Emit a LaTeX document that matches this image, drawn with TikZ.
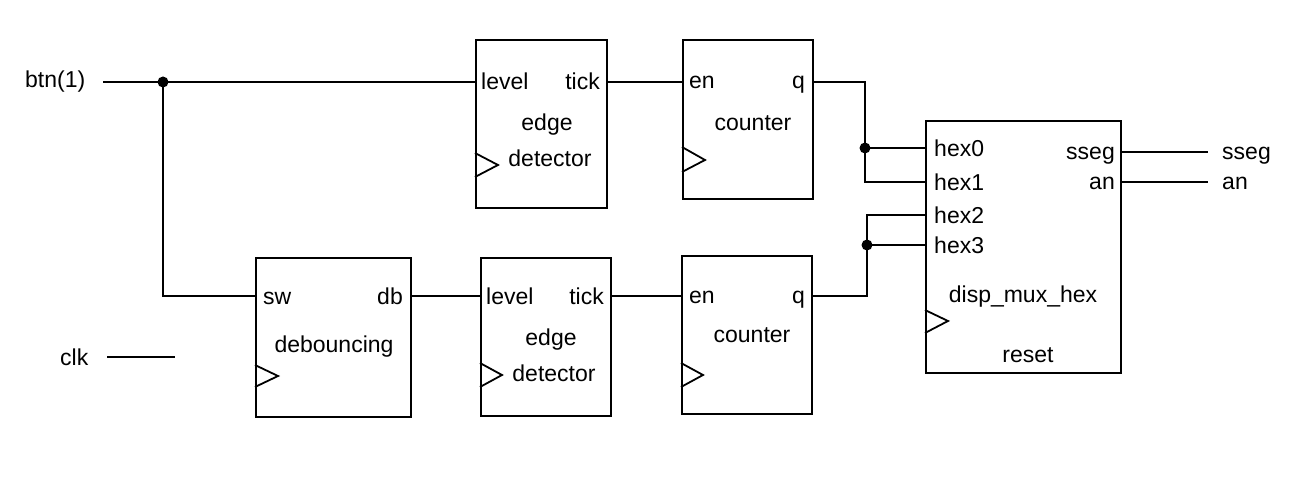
\documentclass[tikz,border=0pt]{standalone}
\usepackage{fontspec}
\setmainfont{Liberation Sans}
\begin{document}
\begin{tikzpicture}[x=1pt,y=-1pt,font=\fontsize{23}{27}\selectfont,
  blk/.style={draw,line width=2.3pt,inner sep=0pt,anchor=north west},
  wire/.style={line width=2.1pt},
  clock/.style={line width=1.8pt},
  lbl/.style={inner sep=0pt},
  dot/.style={circle,fill,inner sep=0pt,minimum size=11pt}]
\useasboundingbox (0,0) rectangle (1308,478);
% blocks
\node[blk,minimum width=155pt,minimum height=159pt] (db) at (255,257) {};
\node[blk,minimum width=131pt,minimum height=168pt] (ed1) at (475,39) {};
\node[blk,minimum width=130pt,minimum height=158pt] (ed2) at (480,257) {};
\node[blk,minimum width=130pt,minimum height=159pt] (c1) at (682,39) {};
\node[blk,minimum width=130pt,minimum height=158pt] (c2) at (681,255) {};
\node[blk,minimum width=195pt,minimum height=252pt] (mux) at (925,120) {};
% clock triangles
\draw[clock] (255,365) -- (278,376) -- (255,387);
\draw[clock] (475,153) -- (498,165) -- (475,177);
\draw[clock] (682,147) -- (705,160) -- (682,172);
\draw[clock] (480,363) -- (502,375) -- (480,387);
\draw[clock] (681,363) -- (703,375) -- (681,387);
\draw[clock] (925,310) -- (948,321) -- (925,333);
% block texts
\node[lbl,anchor=base west] (dbsw) at (263,304) {sw};
\node[lbl,anchor=base east] (dbdb) at (403,304) {db};
\node[lbl] (dbname) at (334,347) {debouncing};
\node[lbl,anchor=base west] (ed1l) at (481,90) {level};
\node[lbl,anchor=base east] (ed1t) at (600,90) {tick};
\node[lbl] (ed1a) at (547,125) {edge};
\node[lbl] (ed1b) at (550,158) {detector};
\node[lbl,anchor=base west] (ed2l) at (486,304) {level};
\node[lbl,anchor=base east] (ed2t) at (604,304) {tick};
\node[lbl] (ed2a) at (551,340) {edge};
\node[lbl] (ed2b) at (554,373) {detector};
\node[lbl,anchor=base west] (c1en) at (689,89) {en};
\node[lbl,anchor=base east] (c1q) at (805,89) {q};
\node[lbl] (c1n) at (753,123) {counter};
\node[lbl,anchor=base west] (c2en) at (689,303) {en};
\node[lbl,anchor=base east] (c2q) at (805,303) {q};
\node[lbl] (c2n) at (752,335) {counter};
\node[lbl,anchor=west] (h0) at (934,148) {hex0};
\node[lbl,anchor=west] (h1) at (934,182) {hex1};
\node[lbl,anchor=west] (h2) at (934,215) {hex2};
\node[lbl,anchor=west] (h3) at (934,245) {hex3};
\node[lbl,anchor=base east] (ms) at (1115,160) {sseg};
\node[lbl,anchor=base east] (ma) at (1115,190) {an};
\node[lbl] (mn) at (1023,297) {disp\_mux\_hex};
\node[lbl] (mr) at (1028,355) {reset};
% external labels
\node[lbl,anchor=west] (btn) at (25,82) {btn(1)};
\node[lbl,anchor=base west] (clk) at (60,365) {clk};
\node[lbl,anchor=base west] (osseg) at (1222,160) {sseg};
\node[lbl,anchor=base west] (oan) at (1222,190) {an};
% port coordinates
\coordinate (btnw) at (103,82);
\coordinate (clkw1) at (107,357);
\coordinate (clkw2) at (175,357);
\coordinate (dbin) at (db.west |- 0,296);
\coordinate (dbout) at (db.east |- 0,296);
\coordinate (ed1in) at (ed1.west |- 0,82);
\coordinate (ed1out) at (ed1.east |- 0,82);
\coordinate (ed2in) at (ed2.west |- 0,296);
\coordinate (ed2out) at (ed2.east |- 0,296);
\coordinate (c1in) at (c1.west |- 0,82);
\coordinate (c1out) at (c1.east |- 0,82);
\coordinate (c2in) at (c2.west |- 0,296);
\coordinate (c2out) at (c2.east |- 0,296);
\coordinate (mh0) at (mux.west |- 0,148);
\coordinate (mh1) at (mux.west |- 0,182);
\coordinate (mh2) at (mux.west |- 0,215);
\coordinate (mh3) at (mux.west |- 0,245);
\coordinate (mso) at (mux.east |- 0,152);
\coordinate (mao) at (mux.east |- 0,182);
\coordinate (sw1) at (1208,152);
\coordinate (aw1) at (1208,182);
% junctions
\node[dot] (j1) at (163,82) {};
\node[dot] (j2) at (865,148) {};
\node[dot] (j3) at (867,245) {};
% wires
\draw[wire] (btnw) -- (ed1in);
\draw[wire] (j1.center) |- (dbin);
\draw[wire] (clkw1) -- (clkw2);
\draw[wire] (dbout) -- (ed2in);
\draw[wire] (ed1out) -- (c1in);
\draw[wire] (ed2out) -- (c2in);
\draw[wire] (c1out) -- (865,82) |- (mh1);
\draw[wire] (j2.center) -- (mh0);
\draw[wire] (c2out) -- (867,296) |- (mh2);
\draw[wire] (j3.center) -- (mh3);
\draw[wire] (mso) -- (sw1);
\draw[wire] (mao) -- (aw1);
\end{tikzpicture}
\end{document}
